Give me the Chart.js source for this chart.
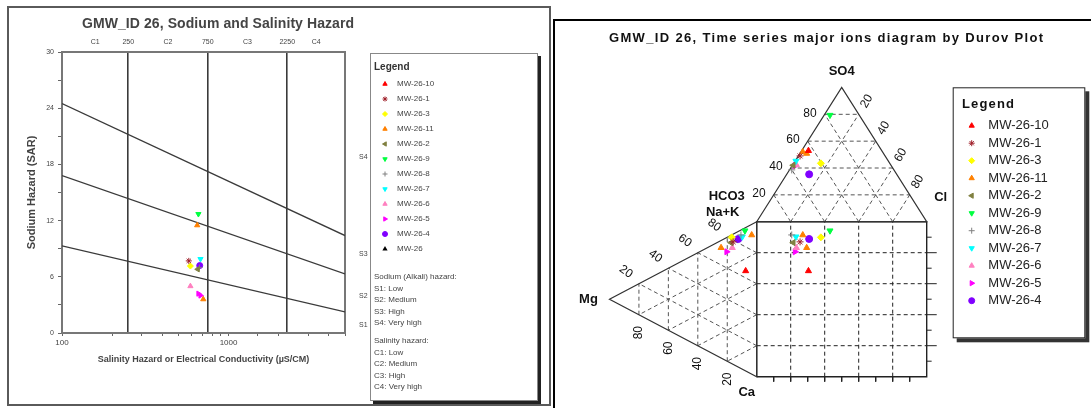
<!DOCTYPE html>
<html>
<head>
<meta charset="utf-8">
<script src="https://cdn.jsdelivr.net/npm/chart.js@4.4.1/dist/chart.umd.min.js"></script>
<style>
  body { margin: 0; width: 1091px; height: 408px; overflow: hidden; background: #fff; position: relative; }
  .panel-left { position: absolute; left: 7px; top: 6px; width: 540px; height: 396px; border: 2px solid #5a5a5a; }
  .panel-right { position: absolute; left: 553px; top: 19px; width: 545px; height: 400px; border-top: 2px solid #000; border-left: 2px solid #000; }
  #wilcox { position: absolute; left: 0; top: 0; }
  #durov { position: absolute; left: 553px; top: 0; }
</style>
</head>
<body>
<div class="panel-left"></div>
<div class="panel-right"></div>
<canvas id="wilcox" width="553" height="408"></canvas>
<canvas id="durov" width="538" height="408"></canvas>
<script>
Chart.defaults.font.family = '"Liberation Sans", Arial, sans-serif';
Chart.defaults.color = '#333';

let wells = ['MW-26-10', 'MW-26-1', 'MW-26-3', 'MW-26-11', 'MW-26-2', 'MW-26-9', 'MW-26-8', 'MW-26-7', 'MW-26-6', 'MW-26-5', 'MW-26-4'];
let well_colors = ['#ff0000', '#a0202a', '#ffff00', '#ff8000', '#808040', '#00ff40', '#808080', '#00ffff', '#ff80c0', '#ff00ff', '#8000ff'];
let well_point_styles = ['triangle', 'star', 'rectRot', 'triangle', 'triangle', 'triangle', 'cross', 'triangle', 'triangle', 'triangle', 'circle'];
let well_rotations = [0, 0, 0, 0, -90, 180, 0, 180, 0, 90, 0];

// sodium / salinity hazard (Wilcox)
let ec_values = [[], [577], [590], [648, 705], [653], [659], [668], [678], [590], [659, 678], [671]];
let sar_values = [[], [7.7], [7.15], [11.5, 3.6], [6.8], [12.7], [7.0], [7.9], [5.0], [4.2, 4.0], [7.2]];
let ec_range = [100, 5000];
let sar_boundaries = [[9.3, 2.25], [16.8, 6.3], [24.5, 10.4]];
let salinity_bounds = [250, 750, 2250];
let salinity_classes = ['C1', 'C2', 'C3', 'C4'];
let sodium_classes = ['S1', 'S2', 'S3', 'S4'];
let sodium_label_sar = [0.9, 3.9, 8.4, 18.8];
let sodium_notes = ['Sodium (Alkali) hazard:', 'S1: Low', 'S2: Medium', 'S3: High', 'S4: Very high'];
let salinity_notes = ['Salinity hazard:', 'C1: Low', 'C2: Medium', 'C3: High', 'C4: Very high'];

// Durov plot, percent of meq
let so4_pct = [[52.9], [49], [43.5], [52, 50.8], [42], [79.4], [38.6], [45.2], [42.3], [41.7], [35.3]];
let cl_pct = [[4.0], [1.0], [16.0], [1.1, 4.0], [0.5], [3.4], [1.3], [0.5], [2.2], [1.7], [13.2]];
let mg_pct = [[7.5], [16], [17], [3.4, 24.2], [17.4], [8.0], [10.7], [9.8], [16.6], [20.4], [12.5]];
let nak_pct = [[64.5], [79], [81.4], [89.7, 71.1], [77.8], [90.2], [86.1], [85.4], [74.9], [70.4], [82.6]];
let durov_steps = [20, 40, 60, 80];
let durov_ticks = [10, 20, 30, 40, 50, 60, 70, 80, 90];

function drawMarker(ctx, i, x, y, r) {
  ctx.fillStyle = well_colors[i];
  ctx.strokeStyle = well_colors[i];
  ctx.lineWidth = 1;
  Chart.helpers.drawPoint(ctx, { pointStyle: well_point_styles[i], rotation: well_rotations[i], radius: r, borderWidth: 1 }, x, y);
}

function spreadText(ctx, text, x, y, width) {
  ctx.save();
  ctx.textAlign = 'left';
  ctx.textBaseline = 'middle';
  let w = ctx.measureText(text).width;
  if ('letterSpacing' in ctx) {
    ctx.letterSpacing = ((width - w) / (text.length - 1)).toFixed(2) + 'px';
    ctx.fillText(text, x, y);
  } else {
    ctx.translate(x, y);
    ctx.scale(width / w, 1);
    ctx.fillText(text, 0, 0);
  }
  ctx.restore();
}

function rotatedText(ctx, text, x, y, deg) {
  ctx.save();
  ctx.translate(x, y);
  ctx.rotate(deg * Math.PI / 180);
  ctx.textAlign = 'center';
  ctx.textBaseline = 'middle';
  ctx.fillText(text, 0, 0);
  ctx.restore();
}

// ---------- left chart ----------
let class_edges = [ec_range[0]].concat(salinity_bounds, [ec_range[1]]);
let top_ticks = [];
let top_labels = [];
for (let i = 0; i < salinity_classes.length; i++) {
  top_ticks.push(Math.sqrt(class_edges[i] * class_edges[i + 1]));
  top_labels.push(salinity_classes[i]);
  if (i < salinity_bounds.length) {
    top_ticks.push(salinity_bounds[i]);
    top_labels.push(String(salinity_bounds[i]));
  }
}

let wilcox_datasets = [];
for (let i = 0; i < wells.length; i++) {
  wilcox_datasets.push({
    label: wells[i],
    data: ec_values[i].map(function(ec, k) { return { x: ec, y: sar_values[i][k] }; }),
    pointStyle: well_point_styles[i],
    rotation: well_rotations[i],
    backgroundColor: well_colors[i],
    borderColor: well_colors[i],
    borderWidth: 1,
    pointRadius: 3
  });
}
for (let b of sar_boundaries) {
  wilcox_datasets.push({
    data: [{ x: ec_range[0], y: b[0] }, { x: ec_range[1], y: b[1] }],
    showLine: true,
    borderColor: '#3a3a3a',
    borderWidth: 1.3,
    pointRadius: 0
  });
}

const wilcoxDecor = {
  id: 'wilcoxDecor',
  afterDraw(chart) {
    let ctx = chart.ctx;
    ctx.save();
    ctx.fillStyle = '#444';
    ctx.font = 'bold 14px "Liberation Sans", Arial';
    spreadText(ctx, 'GMW_ID 26, Sodium and Salinity Hazard', 82, 24, 272);

    // legend box
    ctx.fillStyle = '#222';
    ctx.fillRect(373, 56, 168, 348);
    ctx.fillStyle = '#fff';
    ctx.fillRect(370, 53, 168, 348);
    ctx.strokeStyle = '#888';
    ctx.lineWidth = 1;
    ctx.strokeRect(370.5, 53.5, 167, 347);

    ctx.fillStyle = '#333';
    ctx.textAlign = 'left';
    ctx.textBaseline = 'middle';
    ctx.font = 'bold 10px "Liberation Sans", Arial';
    ctx.fillText('Legend', 374, 67);
    ctx.font = '8px "Liberation Sans", Arial';
    for (let i = 0; i < wells.length; i++) {
      drawMarker(ctx, i, 385, 84 + i * 15, 2.5);
      ctx.fillStyle = '#444';
      ctx.fillText(wells[i], 397, 84 + i * 15);
    }
    ctx.fillStyle = '#000';
    Chart.helpers.drawPoint(ctx, { pointStyle: 'triangle', radius: 3, borderWidth: 0 }, 385, 249);
    ctx.fillStyle = '#444';
    ctx.fillText('MW-26', 397, 249);
    sodium_notes.forEach(function(t, k) { ctx.fillText(t, 374, 277 + k * 11.5); });
    salinity_notes.forEach(function(t, k) { ctx.fillText(t, 374, 341 + k * 11.5); });
    ctx.restore();
  }
};

new Chart(document.getElementById('wilcox'), {
  type: 'scatter',
  data: { datasets: wilcox_datasets },
  options: {
    responsive: false,
    animation: false,
    layout: { padding: 0 },
    plugins: { legend: { display: false }, tooltip: { enabled: false } },
    scales: {
      x: {
        type: 'logarithmic', position: 'bottom', min: ec_range[0], max: ec_range[1],
        ticks: {
          autoSkip: false, maxRotation: 0, padding: 2, font: { size: 8 }, color: '#444',
          callback: function(v) { return (v === 100 || v === 1000) ? String(v) : ''; }
        },
        grid: { drawOnChartArea: false, tickLength: 3, color: '#666' },
        border: { color: '#777', width: 2 },
        title: {
          display: true, text: 'Salinity Hazard or Electrical Conductivity (µS/CM)',
          font: { size: 9, weight: 'bold' }, color: '#444', padding: { bottom: 42.6, top: 0 }
        },
        afterFit: function(s) { s.height = 75; }
      },
      x2: {
        type: 'logarithmic', position: 'top', min: ec_range[0], max: ec_range[1],
        afterBuildTicks: function(s) { s.ticks = top_ticks.map(function(v) { return { value: v }; }); },
        ticks: {
          autoSkip: false, maxRotation: 0, padding: 6, font: { size: 7 }, color: '#444',
          callback: function(v, i) { return top_labels[i]; }
        },
        grid: {
          drawTicks: false, lineWidth: 1.6,
          color: function(c) { return c.tick && salinity_bounds.indexOf(c.tick.value) >= 0 ? '#3a3a3a' : 'rgba(0,0,0,0)'; }
        },
        border: { color: '#777', width: 2 },
        afterFit: function(s) { s.height = 52; }
      },
      y: {
        min: 0, max: 30,
        ticks: {
          stepSize: 3, padding: 4, font: { size: 7 }, color: '#444',
          callback: function(v) { return v % 6 === 0 ? String(v) : ''; }
        },
        grid: { drawOnChartArea: false, tickLength: 4, color: '#666' },
        border: { color: '#777', width: 2 },
        title: {
          display: true, text: 'Sodium Hazard (SAR)',
          font: { size: 11, weight: 'bold' }, color: '#444', padding: { top: 25.4, bottom: 0 }
        },
        afterFit: function(s) { s.width = 62; }
      },
      y2: {
        position: 'right', min: 0, max: 30,
        afterBuildTicks: function(s) { s.ticks = sodium_label_sar.map(function(v) { return { value: v }; }); },
        ticks: {
          padding: 6, font: { size: 7 }, color: '#444',
          callback: function(v, i) { return sodium_classes[i]; }
        },
        grid: { display: false },
        border: { color: '#777', width: 2 },
        afterFit: function(s) { s.width = 208; }
      }
    }
  },
  plugins: [wilcoxDecor]
});

// ---------- right chart (Durov) ----------
const H = [0, 100], C = [100, 100], S = [50, 186.6];
const N = [0, 100], A = [0, 0], M = [-86.6, 50];

function mix(p, q, t) { return [p[0] + (q[0] - p[0]) * t, p[1] + (q[1] - p[1]) * t]; }

function anionXY(so4, cl) {
  let hco3 = 100 - so4 - cl;
  return [(H[0] * hco3 + C[0] * cl + S[0] * so4) / 100, (H[1] * hco3 + C[1] * cl + S[1] * so4) / 100];
}

function cationXY(mg, nak) {
  let ca = 100 - mg - nak;
  return [(N[0] * nak + A[0] * ca + M[0] * mg) / 100, (N[1] * nak + A[1] * ca + M[1] * mg) / 100];
}

let durov_datasets = [];
for (let i = 0; i < wells.length; i++) {
  let pts = [];
  for (let k = 0; k < so4_pct[i].length; k++) {
    let an = anionXY(so4_pct[i][k], cl_pct[i][k]);
    let ca = cationXY(mg_pct[i][k], nak_pct[i][k]);
    pts.push({ x: an[0], y: an[1] });
    pts.push({ x: ca[0], y: ca[1] });
    pts.push({ x: an[0], y: ca[1] });
  }
  durov_datasets.push({
    label: wells[i], data: pts,
    pointStyle: well_point_styles[i], rotation: well_rotations[i],
    backgroundColor: well_colors[i], borderColor: well_colors[i], borderWidth: 1, pointRadius: 3.5
  });
}

function lineSet(points, color, width, dash) {
  return {
    data: points.map(function(p) { return { x: p[0], y: p[1] }; }),
    showLine: true, borderColor: color, borderWidth: width, borderDash: dash, pointRadius: 0
  };
}

durov_datasets.push(lineSet([H, S, C, H], '#333', 1.2, []));
durov_datasets.push(lineSet([N, M, A, N], '#333', 1.2, []));
durov_datasets.push(lineSet([[0, 0], [100, 0], [100, 100], [0, 100], [0, 0]], '#222', 1.4, []));

for (let v of durov_steps) {
  let t = v / 100;
  // anion triangle
  durov_datasets.push(lineSet([mix(H, S, t), mix(C, S, t)], '#555', 1, [4, 3]));
  durov_datasets.push(lineSet([mix(H, C, t), mix(S, C, t)], '#555', 1, [4, 3]));
  durov_datasets.push(lineSet([mix(C, H, t), mix(S, H, t)], '#555', 1, [4, 3]));
  // cation triangle
  durov_datasets.push(lineSet([mix(A, M, t), mix(N, M, t)], '#555', 1, [4, 3]));
  durov_datasets.push(lineSet([mix(A, N, t), mix(M, N, t)], '#555', 1, [4, 3]));
  durov_datasets.push(lineSet([mix(N, A, t), mix(M, A, t)], '#555', 1, [4, 3]));
  // square
  durov_datasets.push(lineSet([[v, 0], [v, 100]], '#222', 1, [4, 3]));
  durov_datasets.push(lineSet([[0, v], [100, v]], '#222', 1, [4, 3]));
}
for (let v of durov_ticks) {
  let long = v % 20 === 0;
  durov_datasets.push(lineSet([[100, v], [long ? 105.9 : 102.9, v]], '#222', 1, []));
  durov_datasets.push(lineSet([[v, 0], [v, -3.2]], '#222', 1, []));
}

const durovDecor = {
  id: 'durovDecor',
  afterDraw(chart) {
    let ctx = chart.ctx, xs = chart.scales.x, ys = chart.scales.y;
    let px = function(p) { return [xs.getPixelForValue(p[0]), ys.getPixelForValue(p[1])]; };
    ctx.save();
    ctx.fillStyle = '#111';
    ctx.font = 'bold 13px "Liberation Sans", Arial';
    spreadText(ctx, 'GMW_ID 26, Time series major ions diagram by Durov Plot', 56, 38, 434);

    ctx.font = '12px "Liberation Sans", Arial';
    for (let v of durov_steps) {
      let t = v / 100;
      let p = px(mix(H, S, t));
      ctx.textAlign = 'right';
      ctx.textBaseline = 'middle';
      ctx.fillText(String(v), p[0] - 8, p[1] - 1);
      p = px(mix(S, C, t));
      rotatedText(ctx, String(v), p[0] + 8, p[1] - 13, -60);
      p = px(mix(M, N, t));
      rotatedText(ctx, String(v), p[0] - 13, p[1] - 12, 35);
      p = px(mix(A, M, t));
      rotatedText(ctx, String(v), p[0], p[1] + 18, -90);
    }

    ctx.font = 'bold 13px "Liberation Sans", Arial';
    let names = [['SO4', S, 0, -16], ['Cl', C, 14, -24], ['HCO3', H, -30, -25], ['Na+K', N, -34, -9], ['Mg', M, -21, 0], ['Ca', A, -10, 16]];
    for (let n of names) {
      let p = px(n[1]);
      rotatedText(ctx, n[0], p[0] + n[2], p[1] + n[3], 0);
    }

    // legend
    ctx.fillStyle = '#333';
    ctx.fillRect(403.7, 91.3, 132.6, 251);
    ctx.fillStyle = '#fff';
    ctx.fillRect(399.7, 87.3, 132.6, 251);
    ctx.strokeStyle = '#222';
    ctx.lineWidth = 1;
    ctx.strokeRect(400.2, 87.8, 131.6, 250);
    ctx.fillStyle = '#111';
    ctx.font = 'bold 13px "Liberation Sans", Arial';
    spreadText(ctx, 'Legend', 409, 104, 52);
    ctx.font = '13px "Liberation Sans", Arial';
    ctx.textAlign = 'left';
    ctx.textBaseline = 'middle';
    for (let i = 0; i < wells.length; i++) {
      drawMarker(ctx, i, 418.7, 125.7 + i * 17.5, 3);
      ctx.fillStyle = '#222';
      ctx.fillText(wells[i], 435.3, 125.7 + i * 17.5);
    }
    ctx.restore();
  }
};

new Chart(document.getElementById('durov'), {
  type: 'scatter',
  data: { datasets: durov_datasets },
  options: {
    responsive: false,
    animation: false,
    layout: { padding: { left: 33.7, right: 147.3, top: 66.7, bottom: 15.8 } },
    plugins: { legend: { display: false }, tooltip: { enabled: false } },
    scales: {
      x: { type: 'linear', display: false, min: -100, max: 110 },
      y: { type: 'linear', display: false, min: -10, max: 200 }
    }
  },
  plugins: [durovDecor]
});
</script>
</body>
</html>
